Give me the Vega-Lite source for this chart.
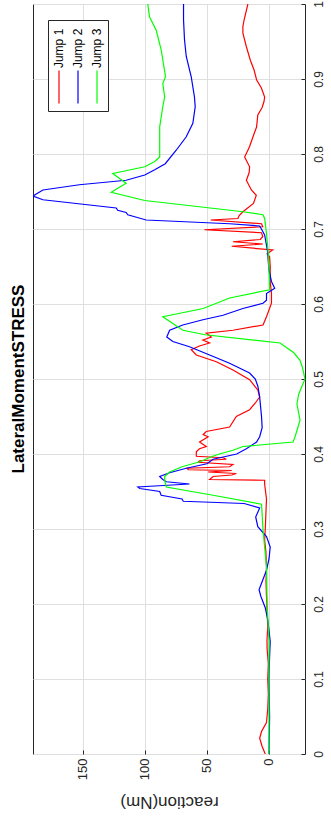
{
"$schema": "https://vega.github.io/schema/vega-lite/v6.json",
"width": 272, "height": 750,
"autosize": {"type": "none"},
"padding": {"left": 33, "top": 4, "right": 26, "bottom": 69},
"background": "white",
"title": {"text": "LateralMomentSTRESS", "orient": "left", "anchor": "middle", "font": "Liberation Sans", "fontSize": 17, "fontWeight": "bold", "color": "black", "offset": 5},
"config": {
  "view": {"stroke": "#262626", "strokeWidth": 1},
  "axis": {"labelFont": "Liberation Sans", "labelFontSize": 12, "labelColor": "#262626", "titleFont": "Liberation Sans", "titleFontSize": 17, "titleFontWeight": "normal", "titleColor": "#262626", "gridColor": "#dfdfdf", "gridWidth": 1, "domain": false, "tickColor": "#262626", "tickSize": -4}
},
"data": {"values": [
{"s":"Jump 1","t":0,"r":3},{"s":"Jump 1","t":0.01,"r":5.5},{"s":"Jump 1","t":0.021,"r":7.5},{"s":"Jump 1","t":0.03,"r":6},{"s":"Jump 1","t":0.042,"r":2},{"s":"Jump 1","t":0.06,"r":1},{"s":"Jump 1","t":0.08,"r":0.5},{"s":"Jump 1","t":0.1,"r":1},{"s":"Jump 1","t":0.12,"r":0.5},{"s":"Jump 1","t":0.14,"r":1.5},{"s":"Jump 1","t":0.152,"r":1.6},{"s":"Jump 1","t":0.17,"r":1},{"s":"Jump 1","t":0.19,"r":1.5},{"s":"Jump 1","t":0.21,"r":2},{"s":"Jump 1","t":0.23,"r":2.4},{"s":"Jump 1","t":0.25,"r":2},{"s":"Jump 1","t":0.27,"r":2.5},{"s":"Jump 1","t":0.285,"r":3.5},{"s":"Jump 1","t":0.3,"r":3},{"s":"Jump 1","t":0.32,"r":2.5},{"s":"Jump 1","t":0.34,"r":2},{"s":"Jump 1","t":0.36,"r":3.5},{"s":"Jump 1","t":0.365,"r":3.5},{"s":"Jump 1","t":0.366,"r":47.8},{"s":"Jump 1","t":0.37,"r":45},{"s":"Jump 1","t":0.372,"r":30},{"s":"Jump 1","t":0.374,"r":26.3},{"s":"Jump 1","t":0.376,"r":49},{"s":"Jump 1","t":0.378,"r":30},{"s":"Jump 1","t":0.379,"r":65},{"s":"Jump 1","t":0.381,"r":66},{"s":"Jump 1","t":0.383,"r":31.7},{"s":"Jump 1","t":0.386,"r":29},{"s":"Jump 1","t":0.389,"r":57},{"s":"Jump 1","t":0.391,"r":55.9},{"s":"Jump 1","t":0.393,"r":34.4},{"s":"Jump 1","t":0.395,"r":37},{"s":"Jump 1","t":0.397,"r":58.5},{"s":"Jump 1","t":0.403,"r":58.5},{"s":"Jump 1","t":0.407,"r":56},{"s":"Jump 1","t":0.41,"r":50.5},{"s":"Jump 1","t":0.416,"r":55.9},{"s":"Jump 1","t":0.423,"r":49},{"s":"Jump 1","t":0.426,"r":53},{"s":"Jump 1","t":0.43,"r":50.5},{"s":"Jump 1","t":0.436,"r":31.7},{"s":"Jump 1","t":0.45,"r":26.3},{"s":"Jump 1","t":0.459,"r":15.6},{"s":"Jump 1","t":0.468,"r":11},{"s":"Jump 1","t":0.476,"r":7.5},{"s":"Jump 1","t":0.485,"r":8.9},{"s":"Jump 1","t":0.499,"r":15.6},{"s":"Jump 1","t":0.512,"r":29},{"s":"Jump 1","t":0.523,"r":42.4},{"s":"Jump 1","t":0.532,"r":58.5},{"s":"Jump 1","t":0.539,"r":62.6},{"s":"Jump 1","t":0.544,"r":56},{"s":"Jump 1","t":0.548,"r":47.8},{"s":"Jump 1","t":0.552,"r":53.2},{"s":"Jump 1","t":0.556,"r":46.4},{"s":"Jump 1","t":0.561,"r":50.5},{"s":"Jump 1","t":0.565,"r":29},{"s":"Jump 1","t":0.572,"r":4.8},{"s":"Jump 1","t":0.583,"r":2},{"s":"Jump 1","t":0.601,"r":-2},{"s":"Jump 1","t":0.614,"r":-2},{"s":"Jump 1","t":0.63,"r":-1},{"s":"Jump 1","t":0.65,"r":-1},{"s":"Jump 1","t":0.663,"r":-0.5},{"s":"Jump 1","t":0.667,"r":1.6},{"s":"Jump 1","t":0.672,"r":-3},{"s":"Jump 1","t":0.677,"r":30},{"s":"Jump 1","t":0.68,"r":5},{"s":"Jump 1","t":0.683,"r":29},{"s":"Jump 1","t":0.686,"r":7},{"s":"Jump 1","t":0.69,"r":5},{"s":"Jump 1","t":0.695,"r":6},{"s":"Jump 1","t":0.699,"r":52},{"s":"Jump 1","t":0.703,"r":5},{"s":"Jump 1","t":0.707,"r":6},{"s":"Jump 1","t":0.712,"r":47},{"s":"Jump 1","t":0.714,"r":25},{"s":"Jump 1","t":0.718,"r":24},{"s":"Jump 1","t":0.723,"r":21},{"s":"Jump 1","t":0.734,"r":12.5},{"s":"Jump 1","t":0.745,"r":10.2},{"s":"Jump 1","t":0.752,"r":14.2},{"s":"Jump 1","t":0.765,"r":18.2},{"s":"Jump 1","t":0.775,"r":16},{"s":"Jump 1","t":0.783,"r":15.6},{"s":"Jump 1","t":0.796,"r":19.6},{"s":"Jump 1","t":0.805,"r":17},{"s":"Jump 1","t":0.81,"r":15.6},{"s":"Jump 1","t":0.827,"r":12},{"s":"Jump 1","t":0.836,"r":10},{"s":"Jump 1","t":0.852,"r":9},{"s":"Jump 1","t":0.862,"r":5.5},{"s":"Jump 1","t":0.87,"r":4},{"s":"Jump 1","t":0.876,"r":3.5},{"s":"Jump 1","t":0.888,"r":6.1},{"s":"Jump 1","t":0.899,"r":10},{"s":"Jump 1","t":0.912,"r":12},{"s":"Jump 1","t":0.925,"r":15},{"s":"Jump 1","t":0.943,"r":18.2},{"s":"Jump 1","t":0.961,"r":21},{"s":"Jump 1","t":0.97,"r":21},{"s":"Jump 1","t":0.979,"r":20},{"s":"Jump 1","t":1,"r":17},
{"s":"Jump 2","t":0,"r":0},{"s":"Jump 2","t":0.05,"r":-0.5},{"s":"Jump 2","t":0.1,"r":0},{"s":"Jump 2","t":0.13,"r":-0.5},{"s":"Jump 2","t":0.15,"r":-1},{"s":"Jump 2","t":0.165,"r":0},{"s":"Jump 2","t":0.179,"r":1},{"s":"Jump 2","t":0.195,"r":3},{"s":"Jump 2","t":0.21,"r":6.5},{"s":"Jump 2","t":0.219,"r":8},{"s":"Jump 2","t":0.232,"r":5},{"s":"Jump 2","t":0.245,"r":2},{"s":"Jump 2","t":0.26,"r":0},{"s":"Jump 2","t":0.276,"r":-1},{"s":"Jump 2","t":0.29,"r":2},{"s":"Jump 2","t":0.303,"r":9},{"s":"Jump 2","t":0.316,"r":10.7},{"s":"Jump 2","t":0.328,"r":7.5},{"s":"Jump 2","t":0.334,"r":20},{"s":"Jump 2","t":0.337,"r":69},{"s":"Jump 2","t":0.34,"r":70},{"s":"Jump 2","t":0.345,"r":86.8},{"s":"Jump 2","t":0.35,"r":88},{"s":"Jump 2","t":0.354,"r":104},{"s":"Jump 2","t":0.356,"r":105.6},{"s":"Jump 2","t":0.358,"r":85},{"s":"Jump 2","t":0.36,"r":64},{"s":"Jump 2","t":0.363,"r":82.7},{"s":"Jump 2","t":0.366,"r":85.5},{"s":"Jump 2","t":0.37,"r":88},{"s":"Jump 2","t":0.375,"r":80},{"s":"Jump 2","t":0.381,"r":66.6},{"s":"Jump 2","t":0.387,"r":50},{"s":"Jump 2","t":0.393,"r":45},{"s":"Jump 2","t":0.4,"r":26},{"s":"Jump 2","t":0.407,"r":18.2},{"s":"Jump 2","t":0.416,"r":10},{"s":"Jump 2","t":0.423,"r":7.5},{"s":"Jump 2","t":0.435,"r":5.5},{"s":"Jump 2","t":0.45,"r":6},{"s":"Jump 2","t":0.476,"r":7.5},{"s":"Jump 2","t":0.49,"r":8.9},{"s":"Jump 2","t":0.5,"r":11},{"s":"Jump 2","t":0.508,"r":15.6},{"s":"Jump 2","t":0.521,"r":31.7},{"s":"Jump 2","t":0.532,"r":47.8},{"s":"Jump 2","t":0.543,"r":64},{"s":"Jump 2","t":0.55,"r":77.4},{"s":"Jump 2","t":0.556,"r":82.3},{"s":"Jump 2","t":0.565,"r":80},{"s":"Jump 2","t":0.572,"r":69.4},{"s":"Jump 2","t":0.579,"r":53.2},{"s":"Jump 2","t":0.585,"r":37},{"s":"Jump 2","t":0.594,"r":21},{"s":"Jump 2","t":0.601,"r":4.8},{"s":"Jump 2","t":0.605,"r":2},{"s":"Jump 2","t":0.614,"r":2},{"s":"Jump 2","t":0.621,"r":-4.6},{"s":"Jump 2","t":0.63,"r":-2},{"s":"Jump 2","t":0.645,"r":0},{"s":"Jump 2","t":0.672,"r":1.3},{"s":"Jump 2","t":0.692,"r":3.5},{"s":"Jump 2","t":0.7,"r":6.1},{"s":"Jump 2","t":0.704,"r":7.5},{"s":"Jump 2","t":0.707,"r":31.7},{"s":"Jump 2","t":0.712,"r":98.9},{"s":"Jump 2","t":0.719,"r":113.7},{"s":"Jump 2","t":0.722,"r":115},{"s":"Jump 2","t":0.725,"r":121.8},{"s":"Jump 2","t":0.728,"r":123},{"s":"Jump 2","t":0.739,"r":182},{"s":"Jump 2","t":0.744,"r":190},{"s":"Jump 2","t":0.752,"r":182},{"s":"Jump 2","t":0.759,"r":152.7},{"s":"Jump 2","t":0.765,"r":115},{"s":"Jump 2","t":0.772,"r":100},{"s":"Jump 2","t":0.779,"r":92},{"s":"Jump 2","t":0.787,"r":83.5},{"s":"Jump 2","t":0.805,"r":74.7},{"s":"Jump 2","t":0.823,"r":66.6},{"s":"Jump 2","t":0.841,"r":61.3},{"s":"Jump 2","t":0.863,"r":59.4},{"s":"Jump 2","t":0.876,"r":60},{"s":"Jump 2","t":0.903,"r":62.6},{"s":"Jump 2","t":0.93,"r":66.6},{"s":"Jump 2","t":0.952,"r":68},{"s":"Jump 2","t":0.979,"r":68.8},{"s":"Jump 2","t":1,"r":68.8},
{"s":"Jump 3","t":0,"r":0},{"s":"Jump 3","t":0.05,"r":0},{"s":"Jump 3","t":0.1,"r":0},{"s":"Jump 3","t":0.15,"r":0},{"s":"Jump 3","t":0.2,"r":1.5},{"s":"Jump 3","t":0.25,"r":2},{"s":"Jump 3","t":0.299,"r":4.8},{"s":"Jump 3","t":0.32,"r":5.5},{"s":"Jump 3","t":0.333,"r":6},{"s":"Jump 3","t":0.345,"r":45},{"s":"Jump 3","t":0.356,"r":82.7},{"s":"Jump 3","t":0.365,"r":84},{"s":"Jump 3","t":0.37,"r":84},{"s":"Jump 3","t":0.376,"r":80},{"s":"Jump 3","t":0.383,"r":70},{"s":"Jump 3","t":0.39,"r":55},{"s":"Jump 3","t":0.396,"r":47},{"s":"Jump 3","t":0.4,"r":40},{"s":"Jump 3","t":0.405,"r":29},{"s":"Jump 3","t":0.41,"r":21},{"s":"Jump 3","t":0.416,"r":-19.4},{"s":"Jump 3","t":0.423,"r":-21},{"s":"Jump 3","t":0.445,"r":-25},{"s":"Jump 3","t":0.467,"r":-22.5},{"s":"Jump 3","t":0.48,"r":-24},{"s":"Jump 3","t":0.5,"r":-29},{"s":"Jump 3","t":0.515,"r":-27},{"s":"Jump 3","t":0.525,"r":-25},{"s":"Jump 3","t":0.535,"r":-20},{"s":"Jump 3","t":0.542,"r":-14},{"s":"Jump 3","t":0.548,"r":-9},{"s":"Jump 3","t":0.559,"r":51.5},{"s":"Jump 3","t":0.565,"r":69.3},{"s":"Jump 3","t":0.583,"r":85.5},{"s":"Jump 3","t":0.594,"r":53},{"s":"Jump 3","t":0.608,"r":31.7},{"s":"Jump 3","t":0.619,"r":-0.5},{"s":"Jump 3","t":0.645,"r":0},{"s":"Jump 3","t":0.672,"r":0.8},{"s":"Jump 3","t":0.694,"r":2},{"s":"Jump 3","t":0.714,"r":3.5},{"s":"Jump 3","t":0.719,"r":4.8},{"s":"Jump 3","t":0.723,"r":21},{"s":"Jump 3","t":0.738,"r":100},{"s":"Jump 3","t":0.749,"r":127},{"s":"Jump 3","t":0.761,"r":115},{"s":"Jump 3","t":0.774,"r":125.8},{"s":"Jump 3","t":0.783,"r":100},{"s":"Jump 3","t":0.79,"r":92},{"s":"Jump 3","t":0.796,"r":88},{"s":"Jump 3","t":0.836,"r":88},{"s":"Jump 3","t":0.863,"r":85.5},{"s":"Jump 3","t":0.876,"r":84},{"s":"Jump 3","t":0.894,"r":85.5},{"s":"Jump 3","t":0.903,"r":83.3},{"s":"Jump 3","t":0.939,"r":86.8},{"s":"Jump 3","t":0.965,"r":90.8},{"s":"Jump 3","t":0.983,"r":96.2},{"s":"Jump 3","t":1,"r":97.6}
]},
"mark": {"type": "line", "strokeWidth": 1.2, "clip": true},
"encoding": {
  "x": {"field": "r", "type": "quantitative",
    "scale": {"domain": [-29, 190], "reverse": true, "nice": false, "zero": false},
    "axis": {"title": "reaction(Nm)", "values": [0, 50, 100, 150], "labelFontSize": 13, "labelAngle": -90, "labelAlign": "right", "labelBaseline": "middle", "labelPadding": 8, "titleAngle": 180, "titlePadding": 30}},
  "y": {"field": "t", "type": "quantitative",
    "scale": {"domain": [0, 1], "nice": false, "zero": false},
    "axis": {"orient": "right", "title": null, "values": [0, 0.1, 0.2, 0.3, 0.4, 0.5, 0.6, 0.7, 0.8, 0.9, 1], "format": "~g", "labelAngle": -90, "labelAlign": "center", "labelBaseline": "top", "labelPadding": 12}},
  "color": {"field": "s", "type": "nominal",
    "scale": {"domain": ["Jump 1", "Jump 2", "Jump 3"], "range": ["#ff0000", "#0000ff", "#00ff00"]},
    "legend": {"title": null, "orient": "none", "legendX": 15, "legendY": 16, "direction": "horizontal", "columns": 3, "columnPadding": 7, "padding": 5,
      "strokeColor": "#262626", "fillColor": "white", "symbolType": "M0,-1L0,1", "symbolSize": 1089, "symbolStrokeWidth": 1.2,
      "labelFont": "Liberation Sans", "labelFontSize": 12, "labelColor": "black",
      "encode": {
        "symbols": {"update": {"x": {"value": 6}, "y": {"value": 62}}},
        "labels": {"update": {"x": {"value": 6}, "y": {"value": 43}, "angle": {"value": -90}, "align": {"value": "left"}, "baseline": {"value": "middle"}}}
      }}},
  "order": {"field": "t", "type": "quantitative"}
}
}
